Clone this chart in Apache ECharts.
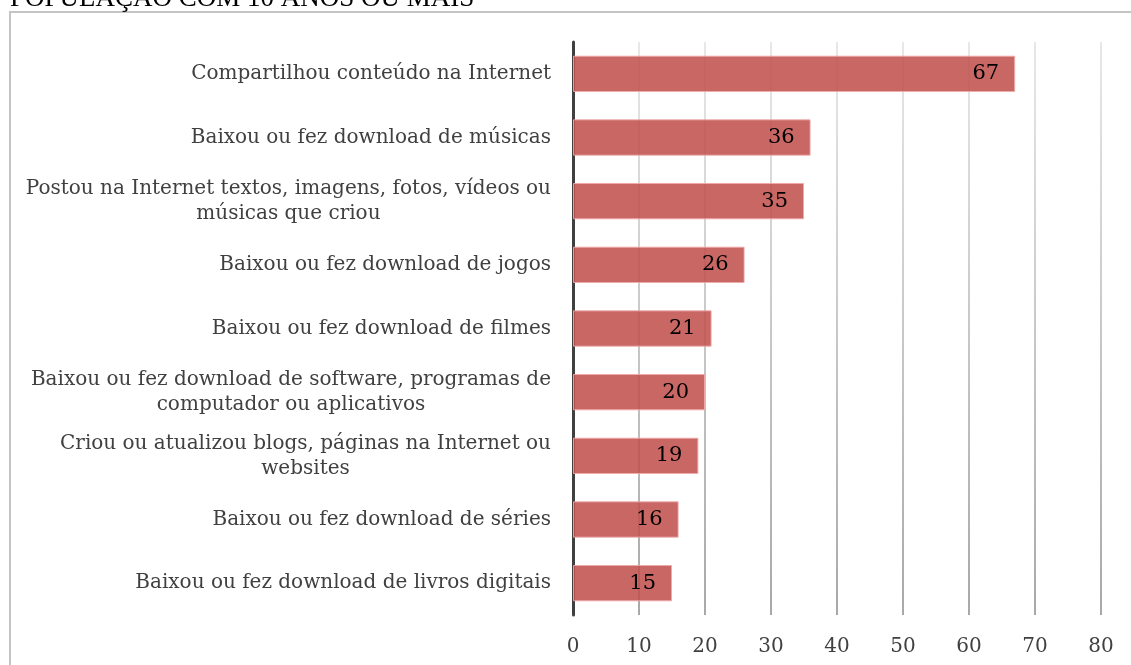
<!DOCTYPE html>
<html>
<head>
<meta charset="utf-8">
<script src="https://cdn.jsdelivr.net/npm/echarts@6/dist/echarts.min.js"></script>
<style>
html,body{margin:0;padding:0;background:#fff;}
#chart{width:1131px;height:665px;}
</style>
</head>
<body>
<div id="chart"></div>
<script>
const title = 'POPULAÇÃO COM 10 ANOS OU MAIS';
const categories = [
  'Compartilhou conteúdo na Internet',
  'Baixou ou fez download de músicas',
  'Postou na Internet textos, imagens, fotos, vídeos ou músicas que criou',
  'Baixou ou fez download de jogos',
  'Baixou ou fez download de filmes',
  'Baixou ou fez download de software, programas de computador ou aplicativos',
  'Criou ou atualizou blogs, páginas na Internet ou websites',
  'Baixou ou fez download de séries',
  'Baixou ou fez download de livros digitais'
];
const values = [67, 36, 35, 26, 21, 20, 19, 16, 15];
const xTicks = [0, 10, 20, 30, 40, 50, 60, 70, 80];

const FONT = 'DejaVu Serif';
const LABEL_SIZE = 20;
const WRAP_WIDTH = 535;

const cvs = document.createElement('canvas').getContext('2d');
cvs.font = LABEL_SIZE + 'px "' + FONT + '"';
function wrap(text) {
  const words = text.split(' ');
  const lines = [];
  let cur = '';
  for (const w of words) {
    const t = cur ? cur + ' ' + w : w;
    if (cvs.measureText(t).width > WRAP_WIDTH && cur) { lines.push(cur); cur = w; }
    else cur = t;
  }
  if (cur) lines.push(cur);
  return lines;
}

const chart = echarts.init(document.getElementById('chart'));
chart.setOption({
  animation: false,
  backgroundColor: '#fff',
  graphic: [
    { type: 'rect', silent: true, shape: { x: 10, y: 12, width: 1130, height: 700 },
      style: { fill: 'none', stroke: '#c4c4c4', lineWidth: 2 } },
    { type: 'text', left: 10, top: -15, silent: true,
      style: { text: title, font: '27px "Liberation Serif"', fill: '#000' } }
  ],
  grid: { left: 573, right: 30, top: 42, bottom: 50, containLabel: false },
  xAxis: {
    type: 'value', min: 0, max: 80, interval: 10,
    axisLine: { show: false },
    axisTick: { show: false },
    axisLabel: { fontFamily: FONT, fontSize: 20, color: '#404040', margin: 22,
      formatter: v => xTicks.includes(v) ? String(v) : '' },
    splitLine: { show: true, lineStyle: { width: 2,
      color: new echarts.graphic.LinearGradient(0, 0, 0, 1, [
        { offset: 0, color: '#e8e8e8' }, { offset: 1, color: '#a8a8a8' }]) } }
  },
  yAxis: {
    type: 'category', data: categories, inverse: true,
    axisLine: { show: true, lineStyle: { color: '#404040', width: 3 } },
    axisTick: { show: false },
    axisLabel: {
      margin: 22, align: 'right',
      formatter: v => wrap(v).map(l => '{c|' + l + '}').join('\n'),
      rich: { c: { align: 'center', fontFamily: FONT, fontSize: LABEL_SIZE, color: '#404040', lineHeight: 25 } }
    }
  },
  series: [{
    type: 'bar', data: values, barWidth: '57%', z: 1,
    itemStyle: { color: 'rgba(192,80,77,0.87)', borderColor: 'rgba(240,170,170,0.9)', borderWidth: 1 },
    label: { show: true, position: 'insideRight', distance: 16,
      fontFamily: FONT, fontSize: 21, color: '#000' }
  }]
});
</script>
</body>
</html>
